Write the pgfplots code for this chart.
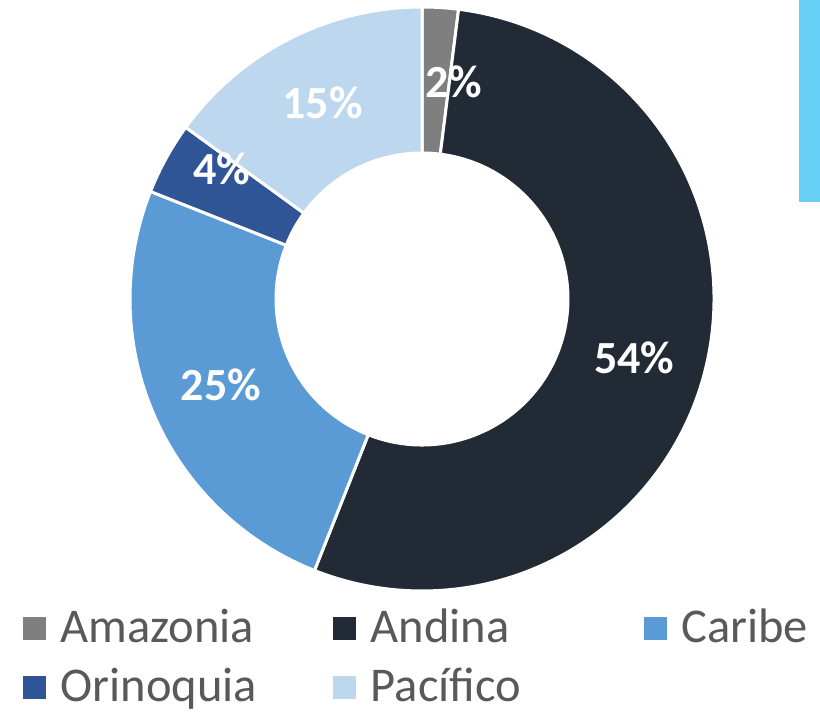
\documentclass[border=0pt]{standalone}
\usepackage{fontspec}
\setmainfont{Carlito}
\usepackage{pgfplots}
\usepackage{pgfplotstable}
\pgfplotsset{compat=1.18}

\definecolor{c0}{HTML}{7F7F7F}
\definecolor{c1}{HTML}{222A35}
\definecolor{c2}{HTML}{5B9BD5}
\definecolor{c3}{HTML}{2F5597}
\definecolor{c4}{HTML}{BDD7EE}
\definecolor{legtext}{HTML}{595959}
\definecolor{cyanbar}{HTML}{66CFF5}

% share per region (%), label nudges in px
\pgfplotstableread{
region value dx dy
Amazonia 2 18 -3
Andina 54 0 -6
Caribe 25 0 0
Orinoquia 4 -8 23
Pacífico 15 0 0
}\shares

\tikzset{lab/.style={font=\fontsize{46}{54}\selectfont\bfseries, text=white,
  text height=29pt, text depth=0pt, inner sep=0pt, anchor=center}}

\begin{document}
\begin{tikzpicture}
\begin{axis}[
  scale only axis, width=820pt, height=714pt,
  xmin=0, xmax=820, ymin=0, ymax=714,
  hide axis, clip=false,
  legend columns=3,
  legend image code/.code={\fill[#1] (0pt,-11pt) rectangle (22pt,11pt);
    \path (37pt,0pt);},
  legend style={at={(axis cs:23,101)}, anchor=north west, draw=none, fill=none,
    inner sep=0pt, outer sep=0pt, column sep=0pt, row sep=29pt,
    font=\fontsize{48.5}{56}\selectfont,
    cells={anchor=west},
    nodes={inner sep=0pt, text height=30pt, text depth=0pt, text=legtext}},
]
\path (axis cs:0,0) rectangle (axis cs:820,714);
\addlegendimage{c0}\addlegendentry{\makebox[273pt][l]{Amazonia}}
\addlegendimage{c1}\addlegendentry{\makebox[273pt][l]{Andina}}
\addlegendimage{c2}\addlegendentry{Caribe}
\addlegendimage{c3}\addlegendentry{\makebox[273pt][l]{Orinoquia}}
\addlegendimage{c4}\addlegendentry{\makebox[273pt][l]{Pacífico}}

\def\cx{422}\def\cy{415}\def\Ro{292}\def\Ri{146}
\def\ang{90}
\gdef\alllabels{}
\pgfplotsforeachungrouped \i in {0,...,4}{%
  \pgfplotstablegetelem{\i}{value}\of\shares \let\val\pgfplotsretval
  \pgfplotstablegetelem{\i}{dx}\of\shares \let\ldx\pgfplotsretval
  \pgfplotstablegetelem{\i}{dy}\of\shares \let\ldy\pgfplotsretval
  \pgfmathsetmacro\angb{\ang-3.6*\val}
  \pgfmathsetmacro\angm{(\ang+\angb)/2}
  \pgfmathsetmacro\xa{\cx+\Ro*cos(\ang)}
  \pgfmathsetmacro\ya{\cy+\Ro*sin(\ang)}
  \pgfmathsetmacro\xb{\cx+\Ri*cos(\angb)}
  \pgfmathsetmacro\yb{\cy+\Ri*sin(\angb)}
  \pgfmathsetmacro\xl{\cx+0.5*(\Ro+\Ri)*cos(\angm)+\ldx}
  \pgfmathsetmacro\yl{\cy+0.5*(\Ro+\Ri)*sin(\angm)+\ldy}
  \edef\slice{\noexpand\fill[c\i, draw=white, line width=3pt]
    (axis cs:\xa,\ya) arc[start angle=\ang, end angle=\angb, radius=\Ro]
    -- (axis cs:\xb,\yb) arc[start angle=\angb, end angle=\ang, radius=\Ri]
    -- cycle;}
  \slice
  \xdef\alllabels{\unexpanded\expandafter{\alllabels}
    \noexpand\node[lab] at (axis cs:\xl,\yl) {\val\noexpand\%};}
  \global\let\ang\angb
}
% labels on top of every slice
\alllabels

% cut-off shape at the right edge
\fill[cyanbar] (axis cs:799,512) rectangle (axis cs:820,714);
\end{axis}
\end{tikzpicture}
\end{document}
